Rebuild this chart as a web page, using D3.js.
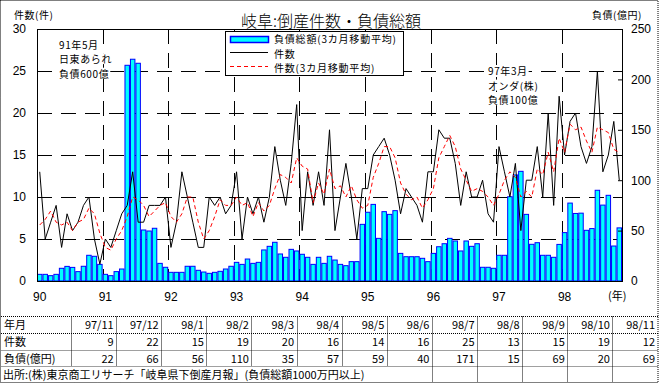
<!DOCTYPE html>
<html><head><meta charset="utf-8">
<script src="https://cdn.jsdelivr.net/npm/d3@7"></script>
<style>
body{margin:0;background:#fff}
svg{display:block}
text{font-family:"Noto Sans CJK JP","Noto Sans",sans-serif;fill:#000}
.num{font-family:"Liberation Sans",Arial,sans-serif}
</style>
</head><body>
<svg id="c" width="659" height="383"></svg>
<script>
// ---- data ----
const years = ["90","91","92","93","94","95","96","97","98"];
const lastYearMonths = 11;
// 件数 (monthly count)
const counts = [
 13,5,7,9,4,8,6,7,9,10,5,2,
 5,4,6,8,9,13,7,7,9,9,9,10,
 4,7,13,10,7,4,4,10,9,10,8,9,
 13,5,10,8,10,7,10,16,12,9,14,21,
 6,13,9,13,9,18,6,10,14,10,5,11,
 11,15,16,17,15,12,8,11,10,9,7,13,
 13,18,17,17,14,9,13,10,10,12,8,7,
 16,13,10,14,6,12,12,16,10,20,9,22,
 15,19,20,16,14,16,25,13,15,19,12
];
// 件数 (3カ月移動平均)
const countsMA = [
 6.67,7.33,8.33,7,6.67,7,6,7,7.33,8.67,8,5.67,
 4,3.67,5,6,7.67,10,9.67,9,7.67,8.33,9,9.33,
 7.67,7,8,10,10,7,5,6,7.67,9.67,9,9,
 10,9,9.33,7.67,9.33,8.33,9,11,12.67,12.33,11.67,14.67,
 13.67,13.33,9.33,11.67,10.33,13.33,11,11.33,10,11.33,9.67,8.67,
 9,12.33,14,16,16,14.67,11.67,10.33,9.67,10,8.67,9.67,
 11,14.67,16,17.33,16,13.33,12,10.67,11,10.67,10,9,
 10.33,12,13,12.33,10,10.67,10,13.33,12.67,15.33,13,17,
 15.33,18.67,18,18.33,16.67,15.33,18.33,18,17.67,15.67,15.33
];
// 負債総額 (3カ月移動平均), 億円
const debtMA = [
 6.6,6.6,5.3,6.6,12.6,14.5,13.5,9.3,14.6,25.5,24.5,16.5,
 6.6,5.3,9.3,11.9,214,220,216,50.6,49.6,52.3,17.5,13.6,
 8.6,8.6,8.6,14.6,14.6,10.6,8.9,7.6,8.6,9.6,11.9,14.6,
 18.5,16.5,21.8,17.5,18.5,30.8,34.4,38.4,26.8,23.5,31.4,29.8,
 26.5,23.5,16.5,23.5,17.5,24.5,20.8,16.5,15.2,19.2,19.2,56.2,
 68.2,76,42.3,68.8,66.1,69.8,27.4,24.1,24.1,24.1,22.5,19.2,
 27.4,34,37,42.3,39.7,29.8,39.7,34.4,37,13.6,13.6,12.6,
 25.5,25.5,83.6,105.2,108.8,66.1,36.4,38,25.5,25.5,23.5,36.3,
 48,77.3,67,67.3,50.3,52,90,75.3,85,34.7,52.7
];
const leftTicks = [0,5,10,15,20,25,30];
const rightTicks = [0,50,100,150,200,250];
const tableMonths = ["97/11","97/12","98/1","98/2","98/3","98/4","98/5","98/6","98/7","98/8","98/9","98/10","98/11"];
const tableCounts = [9,22,15,19,20,16,14,16,25,13,15,19,12];
const tableDebt = [22,66,56,110,35,57,59,40,171,15,69,20,69];
const rowLabels = ["年月","件数","負債(億円)"];
const sourceNote = "出所:(株)東京商工リサーチ「岐阜県下倒産月報」(負債総額1000万円以上)";

// ---- categories ----
const monthKeys = [];
years.forEach((y,i)=>{
  const n = i===years.length-1 ? lastYearMonths : 12;
  for(let m=1;m<=n;m++) monthKeys.push(y+"/"+m);
});
const janKeys = years.map(y=>y+"/1");

// ---- layout ----
const svg = d3.select("#c");
const FS = 11, FS2 = 10;
const P = {l:37, r:622, t:29, b:281};
const x = d3.scaleBand().domain(monthKeys).range([P.l,P.r]).padding(0);
const yL = d3.scaleLinear().domain([0,30]).range([P.b,P.t]);
const yR = d3.scaleLinear().domain([0,250]).range([P.b,P.t]);
const bw = x.bandwidth();

// outer dotted border
svg.append("rect").attr("x",0.5).attr("y",0.5).attr("width",657.5).attr("height",382)
  .attr("fill","none").attr("stroke","#000").attr("stroke-dasharray","1,1");

// horizontal grid
svg.append("g").attr("transform",`translate(${P.l},0)`)
  .call(d3.axisLeft(yL).tickValues([5,10,15,20,25]).tickSize(-(P.r-P.l)).tickFormat(""))
  .call(g=>g.select(".domain").remove())
  .call(g=>g.selectAll(".tick line").attr("stroke","#000").attr("stroke-dasharray","15,9"));

// vertical grid at January of each year
svg.append("g").selectAll("line").data(janKeys.slice(1)).join("line")
  .attr("x1",d=>Math.round(x(d))+0.5).attr("x2",d=>Math.round(x(d))+0.5)
  .attr("y1",P.t).attr("y2",P.b)
  .attr("stroke","#000").attr("stroke-dasharray","15,9");

// bars
svg.append("g").selectAll("rect").data(debtMA).join("rect")
  .attr("x",(d,i)=>x(monthKeys[i])+0.5)
  .attr("width",bw-1)
  .attr("y",d=>yR(d))
  .attr("height",d=>P.b-yR(d))
  .attr("fill","#00ffff").attr("stroke","#0000ff").attr("stroke-width",1);

// lines
const cx = i => x(monthKeys[i])+bw/2;
svg.append("path").datum(counts)
  .attr("d",d3.line().x((d,i)=>cx(i)).y(d=>yL(d)))
  .attr("fill","none").attr("stroke","#000").attr("stroke-width",1);
svg.append("path").datum(countsMA)
  .attr("d",d3.line().x((d,i)=>cx(i)).y(d=>yL(d)))
  .attr("fill","none").attr("stroke","#ff0000").attr("stroke-width",1).attr("stroke-dasharray","4,3");

// frame
svg.append("rect").attr("x",P.l+0.5).attr("y",P.t+0.5).attr("width",P.r-P.l).attr("height",P.b-P.t)
  .attr("fill","none").attr("stroke","#000");

// left axis labels
svg.append("g").attr("transform",`translate(${P.l},0)`)
  .call(d3.axisLeft(yL).tickValues(leftTicks).tickSize(0).tickPadding(11))
  .call(g=>g.select(".domain").remove())
  .call(g=>g.selectAll("text").attr("font-size",FS+1).attr("font-family",null).attr("class","num"));

// right axis
svg.append("g").attr("transform",`translate(${P.r},0)`)
  .call(d3.axisRight(yR).tickValues(rightTicks).tickSize(-4).tickPadding(9))
  .call(g=>g.select(".domain").remove())
  .call(g=>g.selectAll(".tick line").attr("stroke","#000"))
  .call(g=>g.selectAll("text").attr("font-size",FS+1).attr("font-family",null).attr("class","num"));

// bottom axis labels
svg.append("g").attr("transform",`translate(0,${P.b})`)
  .call(d3.axisBottom(x).tickValues(janKeys).tickFormat(k=>k.split("/")[0]).tickSize(0).tickPadding(11))
  .call(g=>g.select(".domain").remove())
  .call(g=>g.selectAll("text").attr("font-size",FS+1).attr("font-family",null).attr("class","num"));

svg.append("text").attr("x",608).attr("y",300).attr("font-size",FS).text("(年)");

// titles
svg.append("text").attr("x",331).attr("y",26.5).attr("text-anchor","middle").attr("font-size",16)
  .attr("font-weight",300).text("岐阜:倒産件数・負債総額");
svg.append("text").attr("x",14).attr("y",19).attr("font-size",FS2).attr("letter-spacing",0.5).text("件数(件)");
svg.append("text").attr("x",592).attr("y",19).attr("font-size",FS2).attr("letter-spacing",0.5).text("負債(億円)");

// legend
const lg = svg.append("g");
lg.append("rect").attr("x",225.5).attr("y",31.5).attr("width",178).attr("height",44)
  .attr("fill","#fff").attr("stroke","#000");
lg.append("rect").attr("x",230.5).attr("y",36.5).attr("width",38).attr("height",6)
  .attr("fill","#00ffff").attr("stroke","#0000ff").attr("stroke-width",1.5);
lg.append("line").attr("x1",230).attr("x2",268).attr("y1",52.5).attr("y2",52.5).attr("stroke","#000");
lg.append("line").attr("x1",230).attr("x2",268).attr("y1",66.5).attr("y2",66.5)
  .attr("stroke","#ff0000").attr("stroke-dasharray","4,3");
const legendLabels = ["負債総額(3カ月移動平均)","件数","件数(3カ月移動平均)"];
lg.selectAll("text.l").data(legendLabels).join("text").attr("class","l")
  .attr("x",274).attr("y",(d,i)=>43.2+i*14.5).attr("font-size",FS2).attr("letter-spacing",0.8).text(d=>d);

// annotations with white background
function note(lines, x0, y0, dy){
  const g = svg.append("g");
  lines.forEach((t,i)=>{
    const tx = g.append("text").attr("x",x0).attr("y",y0+i*dy).attr("font-size",FS2).attr("letter-spacing",0.6).text(t);
    const bb = tx.node().getBBox();
    g.insert("rect","text").attr("x",bb.x-1).attr("y",bb.y+2).attr("width",bb.width+2).attr("height",bb.height-4).attr("fill","#fff");
  });
}
note(["91年5月","日東あられ","負債600億"],59,48.5,14.6);
note(["97年3月","オンダ(株)","負債100億"],488,75,14.6);

// ---- table ----
const tx = d3.scaleBand().domain(tableMonths).range([71,657.5]);
const rowsY = [316.5,333.5,350.5,366.5,382.5];
const tg = svg.append("g");
[[rowsY[0],"dot"],[rowsY[1],"dot"],[rowsY[2],"gray"],[rowsY[3],"gray"]].forEach(([yy,s])=>{
  tg.append("line").attr("x1",1).attr("x2",658).attr("y1",yy).attr("y2",yy)
    .attr("stroke",s==="gray"?"#a0a0a0":"#000").attr("stroke-dasharray",s==="gray"?null:"1,1");
});
const seps = [71].concat(tableMonths.slice(1).map(m=>tx(m)));
tg.selectAll("line.v").data(seps).join("line").attr("class","v")
  .attr("x1",d=>Math.round(d)+0.5).attr("x2",d=>Math.round(d)+0.5)
  .attr("y1",rowsY[0]).attr("y2",rowsY[3])
  .attr("stroke","#000").attr("stroke-dasharray","1,1");
tg.selectAll("line.v2").data(tableMonths.slice(8)).join("line").attr("class","v2")
  .attr("x1",d=>Math.round(tx(d))+0.5).attr("x2",d=>Math.round(tx(d))+0.5)
  .attr("y1",rowsY[3]).attr("y2",rowsY[4])
  .attr("stroke","#000").attr("stroke-dasharray","1,1");
const baseY = [329,346,363];
rowLabels.forEach((t,i)=>tg.append("text").attr("x",4).attr("y",baseY[i]).attr("font-size",FS).text(t));
[tableMonths,tableCounts,tableDebt].forEach((row,ri)=>{
  tg.selectAll("text.r"+ri).data(row).join("text").attr("class","r"+ri)
    .attr("x",(d,i)=>tx(tableMonths[i])+tx.bandwidth()-2.5)
    .attr("y",baseY[ri]).attr("text-anchor","end").attr("font-size",FS).text(d=>d);
});
tg.append("text").attr("x",3).attr("y",379).attr("font-size",FS).text(sourceNote);
</script>
</body></html>
